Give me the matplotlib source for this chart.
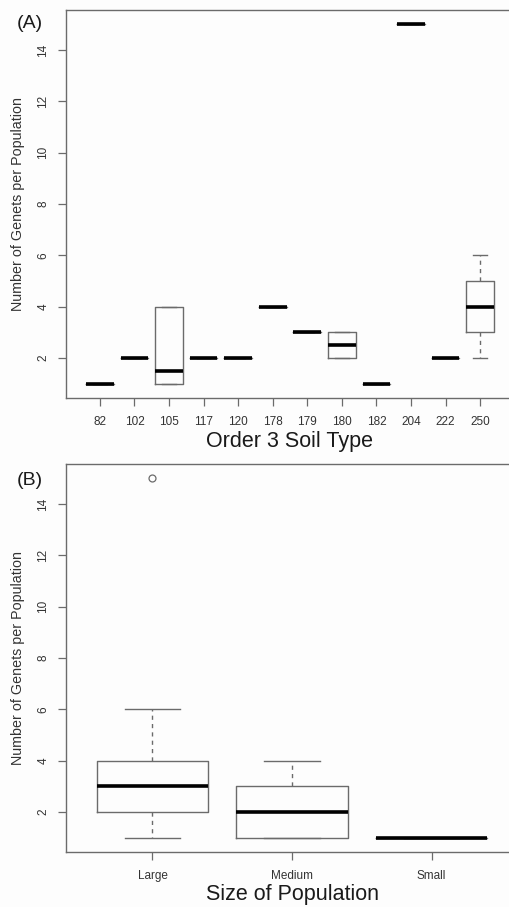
import matplotlib.pyplot as plt

plt.rcParams['font.family'] = ['Liberation Sans', 'DejaVu Sans']

# Panel A: box statistics per order 3 soil type
soil_types = ['82', '102', '105', '117', '120', '178', '179', '180', '182', '204', '222', '250']
soil_med = [1, 2, 1.5, 2, 2, 4, 3, 2.5, 1, 15, 2, 4]
soil_q1 = [1, 2, 1, 2, 2, 4, 3, 2, 1, 15, 2, 3]
soil_q3 = [1, 2, 4, 2, 2, 4, 3, 3, 1, 15, 2, 5]
soil_lo = [1, 2, 1, 2, 2, 4, 3, 2, 1, 15, 2, 2]
soil_hi = [1, 2, 4, 2, 2, 4, 3, 3, 1, 15, 2, 6]

# Panel B: box statistics per population size
pop_sizes = ['Large', 'Medium', 'Small']
pop_med = [3, 2, 1]
pop_q1 = [2, 1, 1]
pop_q3 = [4, 3, 1]
pop_lo = [1, 1, 1]
pop_hi = [6, 4, 1]
pop_fliers = [[15], [], []]

y_ticks = [2, 4, 6, 8, 10, 12, 14]

box_col = '#6b6b6b'
text_col = '#333333'


def make_stats(labels, med, q1, q3, lo, hi, fliers=None):
    stats = []
    for i, lab in enumerate(labels):
        stats.append(dict(label=lab, med=med[i], q1=q1[i], q3=q3[i],
                          whislo=lo[i], whishi=hi[i],
                          fliers=fliers[i] if fliers else []))
    return stats


def draw_panel(ax, stats, xlim, xlabel, tag, tag_y):
    ax.bxp(stats, widths=0.8, patch_artist=False, manage_ticks=True,
           boxprops=dict(color=box_col, lw=1.0),
           medianprops=dict(color='black', lw=2.6, solid_capstyle='butt'),
           whiskerprops=dict(color=box_col, lw=1.0, linestyle=(0, (3, 3))),
           capprops=dict(color=box_col, lw=1.0),
           capwidths=0.4,
           flierprops=dict(marker='o', markerfacecolor='none',
                           markeredgecolor=box_col, markersize=5, markeredgewidth=0.9))
    ax.set_xlim(*xlim)
    ax.set_ylim(0.44, 15.56)
    ax.set_yticks(y_ticks)
    ax.set_yticklabels([str(t) for t in y_ticks], rotation=90, va='center')
    ax.tick_params(axis='both', colors=box_col, labelcolor=text_col,
                   length=6, width=0.9, labelsize=8.5)
    ax.tick_params(axis='x', pad=7)
    ax.tick_params(axis='y', pad=6)
    for s in ax.spines.values():
        s.set_color(box_col)
        s.set_linewidth(1.0)
    ax.set_facecolor('#fdfdfd')
    ax.set_xlabel(xlabel, fontsize=15.5, color='#1a1a1a')
    ax.xaxis.label.set_va('center')
    ax.set_ylabel('Number of Genets per Population', fontsize=10.3, color=text_col)
    ax.yaxis.label.set_va('center')
    fig.text(30 / 509, 1 - tag_y / 907, tag, fontsize=14, color='#1a1a1a',
             ha='center', va='center')


fig = plt.figure(figsize=(5.09, 9.07), dpi=100)
fig.patch.set_facecolor('#fdfdfd')

ax1 = fig.add_axes([66 / 509, 1 - 398 / 907, 448 / 509, 388 / 907])
draw_panel(ax1, make_stats(soil_types, soil_med, soil_q1, soil_q3, soil_lo, soil_hi),
           (0.02, 12.98), 'Order 3 Soil Type', '(A)', 23)
ax1.xaxis.set_label_coords(0.5, -0.1126)
ax1.yaxis.set_label_coords(-0.107, 0.5)

ax2 = fig.add_axes([66 / 509, 1 - 852 / 907, 452 / 509, 388 / 907])
draw_panel(ax2, make_stats(pop_sizes, pop_med, pop_q1, pop_q3, pop_lo, pop_hi, pop_fliers),
           (0.38, 3.62), 'Size of Population', '(B)', 480)
ax2.xaxis.set_label_coords(0.5, -0.1108)
ax2.yaxis.set_label_coords(-0.106, 0.5)

fig.savefig('out.png', dpi=100, facecolor=fig.get_facecolor())
